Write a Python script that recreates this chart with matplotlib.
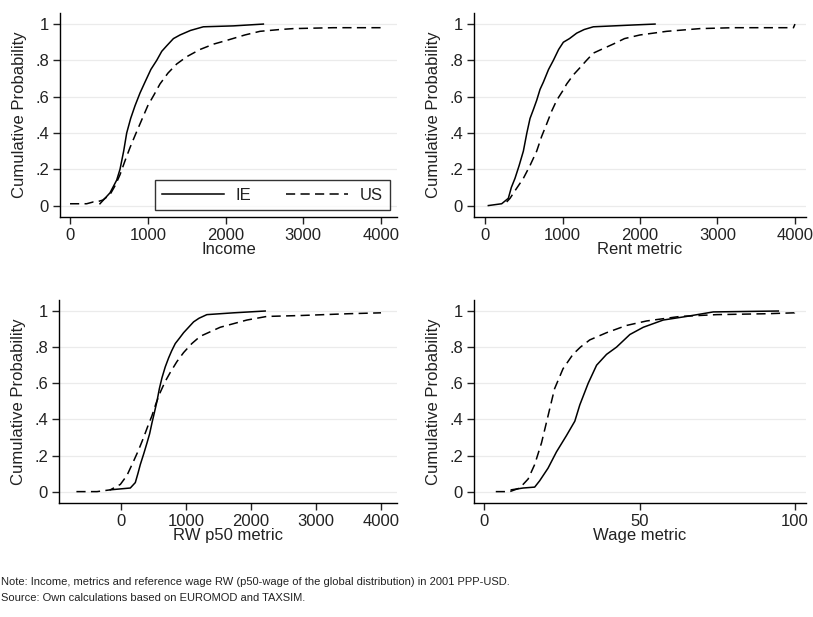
import matplotlib
matplotlib.use("Agg")
import matplotlib.pyplot as plt

plt.rcParams['font.family'] = ['Liberation Sans', 'DejaVu Sans']

# ECDF points read as (value, cumulative share) per metric and country
inc_ie_x = [385, 514, 600, 643, 690, 729, 780, 836, 900, 964, 1040, 1115, 1180, 1243, 1330, 1415, 1550, 1715, 2100, 2487]
inc_ie_y = [0.01, 0.07, 0.14, 0.2, 0.3, 0.4, 0.48, 0.55, 0.62, 0.68, 0.75, 0.8, 0.85, 0.88, 0.92, 0.94, 0.965, 0.985, 0.99, 1.0]
inc_us_x = [0, 214, 300, 343, 420, 514, 580, 643, 710, 772, 840, 900, 1000, 1080, 1157, 1260, 1372, 1500, 1672, 1850, 2015, 2250, 2443, 2700, 2872, 3387, 4000]
inc_us_y = [0.01, 0.01, 0.02, 0.02, 0.03, 0.06, 0.11, 0.17, 0.25, 0.32, 0.39, 0.45, 0.55, 0.61, 0.67, 0.73, 0.78, 0.82, 0.86, 0.89, 0.91, 0.94, 0.96, 0.97, 0.975, 0.98, 0.98]

rent_ie_x = [43, 215, 301, 340, 387, 440, 495, 540, 581, 625, 667, 710, 753, 820, 882, 950, 1011, 1090, 1183, 1280, 1398, 1914, 2194]
rent_ie_y = [0.0, 0.01, 0.04, 0.1, 0.15, 0.22, 0.3, 0.4, 0.48, 0.53, 0.58, 0.64, 0.68, 0.75, 0.8, 0.86, 0.9, 0.92, 0.95, 0.97, 0.985, 0.995, 1.0]
rent_us_x = [280, 323, 400, 495, 580, 667, 730, 796, 860, 925, 1000, 1054, 1140, 1226, 1310, 1398, 1500, 1656, 1800, 2000, 2344, 2774, 3204, 3980, 4000]
rent_us_y = [0.02, 0.04, 0.09, 0.15, 0.22, 0.3, 0.38, 0.45, 0.52, 0.58, 0.63, 0.67, 0.72, 0.76, 0.8, 0.84, 0.86, 0.89, 0.92, 0.94, 0.96, 0.975, 0.98, 0.98, 1.0]

rw_ie_x = [-164, 143, 220, 260, 297, 350, 400, 440, 476, 515, 553, 590, 630, 680, 732, 780, 835, 900, 963, 1040, 1117, 1200, 1321, 1731, 2218]
rw_ie_y = [0.01, 0.02, 0.05, 0.1, 0.15, 0.21, 0.27, 0.32, 0.38, 0.44, 0.5, 0.57, 0.63, 0.69, 0.74, 0.78, 0.82, 0.85, 0.88, 0.91, 0.94, 0.96, 0.98, 0.99, 1.0]
rw_us_x = [-686, -369, -164, -10, 92, 195, 270, 348, 410, 476, 540, 604, 680, 758, 860, 963, 1090, 1219, 1526, 1936, 2243, 2756, 3500, 4000]
rw_us_y = [0.0, 0.0, 0.01, 0.04, 0.09, 0.17, 0.23, 0.3, 0.36, 0.42, 0.49, 0.55, 0.61, 0.66, 0.72, 0.77, 0.82, 0.86, 0.91, 0.95, 0.97, 0.975, 0.985, 0.99]

wage_ie_x = [8.8, 12.6, 16.3, 17.9, 20.6, 23.3, 26.5, 29.2, 30.8, 33.5, 36.2, 39.4, 42.6, 46.9, 51.2, 57.6, 65.1, 73.7, 94.6]
wage_ie_y = [0.01, 0.02, 0.025, 0.06, 0.13, 0.22, 0.31, 0.39, 0.48, 0.6, 0.7, 0.76, 0.8, 0.87, 0.91, 0.95, 0.97, 0.995, 1.0]
wage_us_x = [3.8, 8.3, 11.5, 14.2, 16.3, 18.5, 20.6, 22.7, 25.4, 28.6, 31, 34, 39.4, 45.8, 52.3, 63, 74.8, 90.9, 99.8, 100]
wage_us_y = [0.0, 0.0, 0.02, 0.07, 0.15, 0.27, 0.42, 0.57, 0.68, 0.76, 0.8, 0.84, 0.88, 0.92, 0.945, 0.97, 0.98, 0.985, 0.99, 1.0]

y_ticks = [0, 0.2, 0.4, 0.6, 0.8, 1]
y_tick_labels = ['0', '.2', '.4', '.6', '.8', '1']

panels = [
    # (left, bottom, right, top) in pixels, xlabel, xticks, xlim, IE, US
    ((60, 217, 397, 13), 'Income', [0, 1000, 2000, 3000, 4000], (-129, 4206),
     (inc_ie_x, inc_ie_y), (inc_us_x, inc_us_y)),
    ((474, 217, 806, 13), 'Rent metric', [0, 1000, 2000, 3000, 4000], (-142, 4142),
     (rent_ie_x, rent_ie_y), (rent_us_x, rent_us_y)),
    ((59, 503, 397, 300), 'RW p50 metric', [0, 1000, 2000, 3000, 4000], (-954, 4246),
     (rw_ie_x, rw_ie_y), (rw_us_x, rw_us_y)),
    ((474, 503, 806, 300), 'Wage metric', [0, 50, 100], (-3.2, 103.5),
     (wage_ie_x, wage_ie_y), (wage_us_x, wage_us_y)),
]

W, H = 813, 617
fig = plt.figure(figsize=(W / 100, H / 100), dpi=100)
fig.patch.set_facecolor('white')

dash = (0, (6, 3.5))
txt_col = '#222222'
fs = 12

axes = []
for (x0, yb, x1, yt), xlab, xt, xl, ie, us in panels:
    ax = fig.add_axes([x0 / W, 1 - yb / H, (x1 - x0) / W, (yb - yt) / H])
    for y in y_ticks:
        ax.axhline(y, color='#ebebeb', lw=0.9, zorder=0)
    ax.plot(ie[0], ie[1], color='black', lw=1.1, label='IE')
    ax.plot(us[0], us[1], color='black', lw=1.1, linestyle=dash, label='US')
    ax.set_xlim(*xl)
    ax.set_ylim(-0.063, 1.061)
    ax.set_xticks(xt)
    ax.set_yticks(y_ticks)
    ax.set_yticklabels(y_tick_labels)
    for s in ['top', 'right']:
        ax.spines[s].set_visible(False)
    for s in ['left', 'bottom']:
        ax.spines[s].set_linewidth(1.0)
        ax.spines[s].set_color('black')
    ax.tick_params(direction='out', length=5, width=1.0, pad=3,
                   labelsize=fs, colors=txt_col)
    ax.set_xlabel(xlab, fontsize=fs, color=txt_col, labelpad=-1)
    ax.set_ylabel('Cumulative Probability', fontsize=fs, color=txt_col, labelpad=6)
    axes.append(ax)

leg = axes[0].legend(loc='lower right', bbox_to_anchor=(0.979, 0.034), ncol=2,
                     fontsize=fs, frameon=True, fancybox=False, borderaxespad=0,
                     handlelength=3.7, handletextpad=0.7, columnspacing=2.1,
                     borderpad=0.45)
leg.get_frame().set_edgecolor('black')
leg.get_frame().set_linewidth(1.0)
for t in leg.get_texts():
    t.set_color(txt_col)

fig.text(1 / W, 1 - 582 / H,
         'Note: Income, metrics and reference wage RW (p50-wage of the global distribution) in 2001 PPP-USD.',
         fontsize=8.0, color=txt_col, va='center', ha='left')
fig.text(1 / W, 1 - 598 / H,
         'Source: Own calculations based on EUROMOD and TAXSIM.',
         fontsize=8.0, color=txt_col, va='center', ha='left')

fig.savefig('out.png', dpi=100)
